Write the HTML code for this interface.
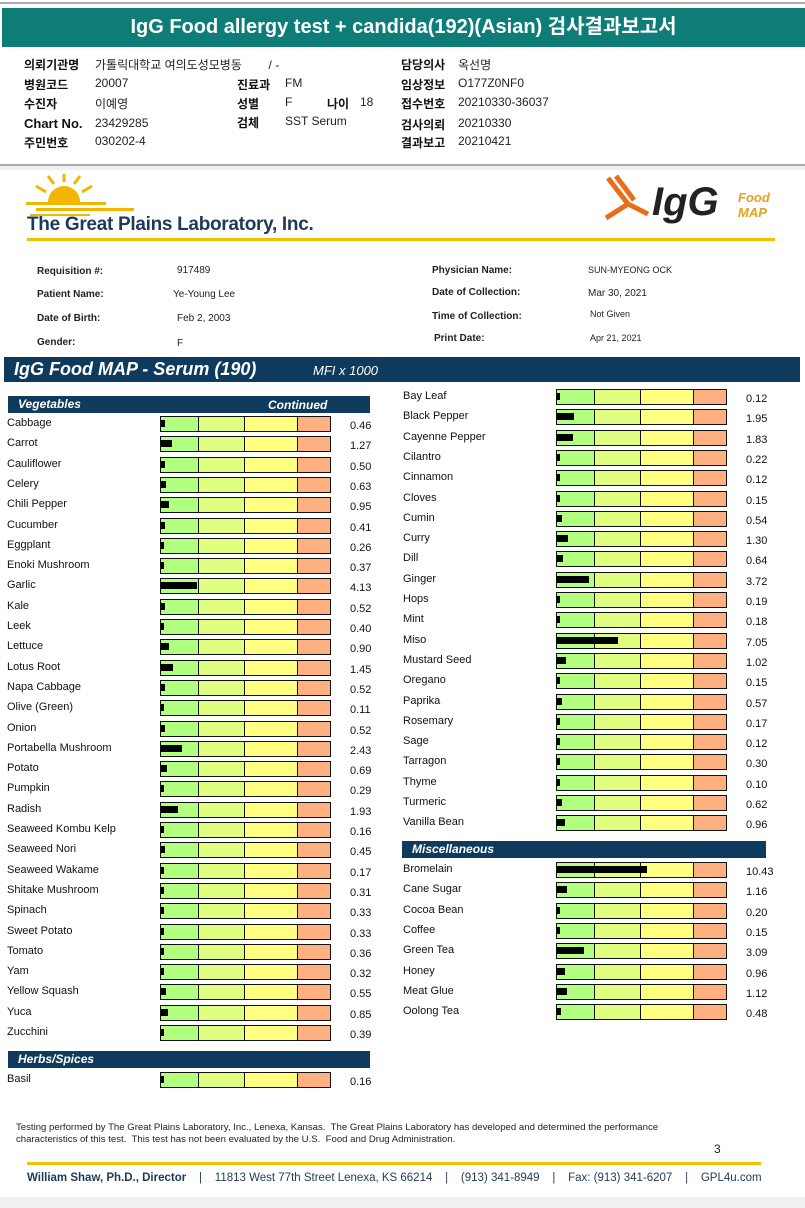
<!DOCTYPE html>
<html><head><meta charset="utf-8">
<style>
body{margin:0;width:805px;height:1208px;position:relative;background:#fff;font-family:"Liberation Sans","Noto Sans CJK KR",sans-serif;overflow:hidden}
.a{position:absolute;white-space:nowrap}
.k{font-weight:bold;font-size:12px;color:#111}
.v{font-size:12px;color:#222;font-family:"Liberation Sans Narrow","Liberation Sans","Noto Sans CJK KR",sans-serif}
.pl{font-size:10px;font-weight:bold;color:#222}
.pv{font-size:10px;color:#222}
.lbl{font-size:11px;color:#111}
.val{font-size:11px;color:#111}
.sec{background:#0e3a5e;color:#fff;font-weight:bold;font-style:italic;font-size:12px}
</style></head><body>
<div class="a" style="left:0;top:2px;width:805px;height:2px;background:#aaa"></div>
<div class="a" style="left:2px;top:8px;width:803px;height:39px;background:#0e7d78;color:#fff;font-weight:bold;font-size:20px;text-align:center;line-height:39px">IgG Food allergy test + candida(192)(Asian) 검사결과보고서</div>

<div class="a k" style="left:24px;top:56px">의뢰기관명</div>
<div class="a v" style="left:95px;top:56px">가톨릭대학교 여의도성모병동 &nbsp;&nbsp;&nbsp;&nbsp;&nbsp;&nbsp; / -</div>
<div class="a k" style="left:24px;top:76px">병원코드</div>
<div class="a v" style="left:95px;top:76px">20007</div>
<div class="a k" style="left:24px;top:95px">수진자</div>
<div class="a v" style="left:95px;top:95px">이예영</div>
<div class="a k" style="left:24px;top:116px;font-size:13px">Chart No.</div>
<div class="a v" style="left:95px;top:116px">23429285</div>
<div class="a k" style="left:24px;top:134px">주민번호</div>
<div class="a v" style="left:95px;top:134px">030202-4</div>
<div class="a k" style="left:237px;top:76px">진료과</div>
<div class="a v" style="left:285px;top:76px">FM</div>
<div class="a k" style="left:237px;top:95px">성별</div>
<div class="a v" style="left:285px;top:95px">F</div>
<div class="a k" style="left:327px;top:95px">나이</div>
<div class="a v" style="left:360px;top:95px">18</div>
<div class="a k" style="left:237px;top:114px">검체</div>
<div class="a v" style="left:285px;top:114px">SST Serum</div>
<div class="a k" style="left:401px;top:56px">담당의사</div>
<div class="a v" style="left:458px;top:56px">옥선명</div>
<div class="a k" style="left:401px;top:76px">임상정보</div>
<div class="a v" style="left:458px;top:76px">O177Z0NF0</div>
<div class="a k" style="left:401px;top:95px">접수번호</div>
<div class="a v" style="left:458px;top:95px">20210330-36037</div>
<div class="a k" style="left:401px;top:116px">검사의뢰</div>
<div class="a v" style="left:458px;top:116px">20210330</div>
<div class="a k" style="left:401px;top:134px">결과보고</div>
<div class="a v" style="left:458px;top:134px">20210421</div>
<div class="a" style="left:0;top:164px;width:805px;height:2px;background:#aaa"></div>
<div class="a" style="left:0;top:166px;width:805px;height:4px;background:#f0f0f0"></div>

<svg class="a" style="left:26px;top:172px" width="110" height="48">
<path d="M22 30 A16 16 0 0 1 54 30 Z" fill="#f2b500"/>
<g stroke="#f2b500" stroke-width="3" fill="none"><path d="M38 10 L38 2"/><path d="M28 12 L22 4"/><path d="M48 12 L54 4"/><path d="M20 20 L10 14"/><path d="M56 20 L66 14"/></g>
<rect x="0" y="30" width="80" height="3" fill="#f2b500"/><rect x="10" y="36" width="98" height="3" fill="#f2b500"/><rect x="4" y="42" width="60" height="2" fill="#f2b500"/>
</svg>
<div class="a" style="left:27px;top:214px;font-size:19px;font-weight:bold;color:#1e3a5a;letter-spacing:-0.3px">The Great Plains Laboratory, Inc.</div>
<svg class="a" style="left:604px;top:174px" width="80" height="56"><g stroke="#e86e1c" stroke-width="5" fill="none"><path d="M4 4 L24 30 L44 40"/><path d="M12 2 L30 26"/><path d="M2 44 L24 30"/></g></svg>
<div class="a" style="left:652px;top:180px;font-size:40px;font-weight:bold;font-style:italic;color:#222">IgG</div>
<div class="a" style="left:738px;top:190px;font-size:13px;font-weight:bold;font-style:italic;color:#e8a11c;line-height:15px">Food<br>MAP</div>
<div class="a" style="left:27px;top:238px;width:748px;height:3px;background:#f0c000"></div>

<div class="a pl" style="left:37px;top:266px">Requisition #:</div>
<div class="a pv" style="left:177px;top:265px">917489</div>
<div class="a pl" style="left:37px;top:289px">Patient Name:</div>
<div class="a pv" style="left:173px;top:289px">Ye-Young Lee</div>
<div class="a pl" style="left:37px;top:313px">Date of Birth:</div>
<div class="a pv" style="left:177px;top:313px">Feb 2, 2003</div>
<div class="a pl" style="left:37px;top:337px">Gender:</div>
<div class="a pv" style="left:177px;top:338px">F</div>
<div class="a pl" style="left:432px;top:265px">Physician Name:</div>
<div class="a pv" style="left:588px;top:265px;font-size:9px">SUN-MYEONG OCK</div>
<div class="a pl" style="left:432px;top:287px">Date of Collection:</div>
<div class="a pv" style="left:588px;top:288px">Mar 30, 2021</div>
<div class="a pl" style="left:432px;top:311px">Time of Collection:</div>
<div class="a pv" style="left:590px;top:309px;font-size:9px">Not Given</div>
<div class="a pl" style="left:434px;top:333px">Print Date:</div>
<div class="a pv" style="left:590px;top:333px;font-size:9px">Apr 21, 2021</div>

<div class="a" style="left:4px;top:357px;width:796px;height:25px;background:#0e3a5e;color:#fff;font-weight:bold;font-style:italic"><span style="position:absolute;left:10px;top:2px;font-size:18px">IgG Food MAP - Serum (190)</span><span style="position:absolute;left:309px;top:6px;font-size:13px;font-weight:normal">MFI x 1000</span></div>
<div class="a sec" style="left:8px;top:396px;width:362px;height:17px"><span style="position:absolute;left:10px;top:1px">Vegetables</span><span style="position:absolute;left:260px;top:2px">Continued</span></div>
<div class="a sec" style="left:8px;top:1051px;width:362px;height:17px"><span style="position:absolute;left:10px;top:1px">Herbs/Spices</span></div>
<div class="a sec" style="left:402px;top:841px;width:364px;height:17px"><span style="position:absolute;left:10px;top:1px">Miscellaneous</span></div>

<div id="charts"></div>

<div class="a" style="left:16px;top:1122px;font-size:9.6px;color:#222;line-height:12px">Testing performed by The Great Plains Laboratory, Inc., Lenexa, Kansas.&nbsp; The Great Plains Laboratory has developed and determined the performance<br>characteristics of this test.&nbsp; This test has not been evaluated by the U.S.&nbsp; Food and Drug Administration.</div>
<div class="a" style="left:714px;top:1142px;font-size:12px;color:#222">3</div>
<div class="a" style="left:27px;top:1162px;width:734px;height:3px;background:#f0c000"></div>
<div class="a" style="left:27px;top:1172px;font-size:11.5px;color:#1e3a5a"><b>William Shaw, Ph.D., Director</b> &nbsp;&nbsp; | &nbsp;&nbsp; 11813 West 77th Street Lenexa, KS 66214 &nbsp;&nbsp; | &nbsp;&nbsp; (913) 341-8949 &nbsp;&nbsp; | &nbsp;&nbsp; Fax: (913) 341-6207 &nbsp;&nbsp; | &nbsp;&nbsp; GPL4u.com</div>
<div class="a" style="left:0;top:1197px;width:805px;height:11px;background:#f0f0f0"></div>

<script>
const vegNames=["Cabbage","Carrot","Cauliflower","Celery","Chili Pepper","Cucumber","Eggplant","Enoki Mushroom","Garlic","Kale","Leek","Lettuce","Lotus Root","Napa Cabbage","Olive (Green)","Onion","Portabella Mushroom","Potato","Pumpkin","Radish","Seaweed Kombu Kelp","Seaweed Nori","Seaweed Wakame","Shitake Mushroom","Spinach","Sweet Potato","Tomato","Yam","Yellow Squash","Yuca","Zucchini"];
const vegValues=[0.46,1.27,0.50,0.63,0.95,0.41,0.26,0.37,4.13,0.52,0.40,0.90,1.45,0.52,0.11,0.52,2.43,0.69,0.29,1.93,0.16,0.45,0.17,0.31,0.33,0.33,0.36,0.32,0.55,0.85,0.39];
const herbNamesL=["Basil"];
const herbValuesL=[0.16];
const herbNamesR=["Bay Leaf","Black Pepper","Cayenne Pepper","Cilantro","Cinnamon","Cloves","Cumin","Curry","Dill","Ginger","Hops","Mint","Miso","Mustard Seed","Oregano","Paprika","Rosemary","Sage","Tarragon","Thyme","Turmeric","Vanilla Bean"];
const herbValuesR=[0.12,1.95,1.83,0.22,0.12,0.15,0.54,1.30,0.64,3.72,0.19,0.18,7.05,1.02,0.15,0.57,0.17,0.12,0.30,0.10,0.62,0.96];
const miscNames=["Bromelain","Cane Sugar","Cocoa Bean","Coffee","Green Tea","Honey","Meat Glue","Oolong Tea"];
const miscValues=[10.43,1.16,0.20,0.15,3.09,0.96,1.12,0.48];

const PX_PER_UNIT=8.6, ROW=20.3;
function xScale(v){return Math.max(2.5,v*PX_PER_UNIT);}
const host=document.getElementById('charts');
function drawList(names,values,labelX,boxX,valX,y0){
  names.forEach((n,i)=>{
    const y=y0+i*ROW;
    const l=document.createElement('div');
    l.className='a lbl';l.style.left=labelX+'px';l.style.top=(y-7)+'px';l.textContent=n;
    
    
    host.appendChild(l);
    const b=document.createElement('div');
    b.className='a';b.style.left=boxX+'px';b.style.top=(y-8)+'px';b.style.width='171px';b.style.height='16px';
    b.style.boxSizing='border-box';b.style.border='1px solid #111';
    b.style.background='linear-gradient(to right,#b3ff80 0,#b3ff80 37px,#111 37px,#111 38px,#e0ff80 38px,#e0ff80 83px,#111 83px,#111 84px,#ffff80 84px,#ffff80 136px,#111 136px,#111 137px,#ffb080 137px)';
    
    
    host.appendChild(b);
    const m=document.createElement('div');
    m.className='a';m.style.left=(boxX+1)+'px';m.style.top=(y-4)+'px';m.style.height='7px';m.style.width=xScale(values[i])+'px';m.style.background='#000';
    
    
    host.appendChild(m);
    const t=document.createElement('div');
    t.className='a val';t.style.left=valX+'px';t.style.top=(y-4)+'px';t.textContent=values[i].toFixed(2);
    
    
    host.appendChild(t);
  });
}
drawList(vegNames,vegValues,7,160,350,424);
drawList(herbNamesL,herbValuesL,7,160,350,1080);
drawList(herbNamesR,herbValuesR,403,556,746,397);
drawList(miscNames,miscValues,403,556,746,870);
</script>
</body></html>
